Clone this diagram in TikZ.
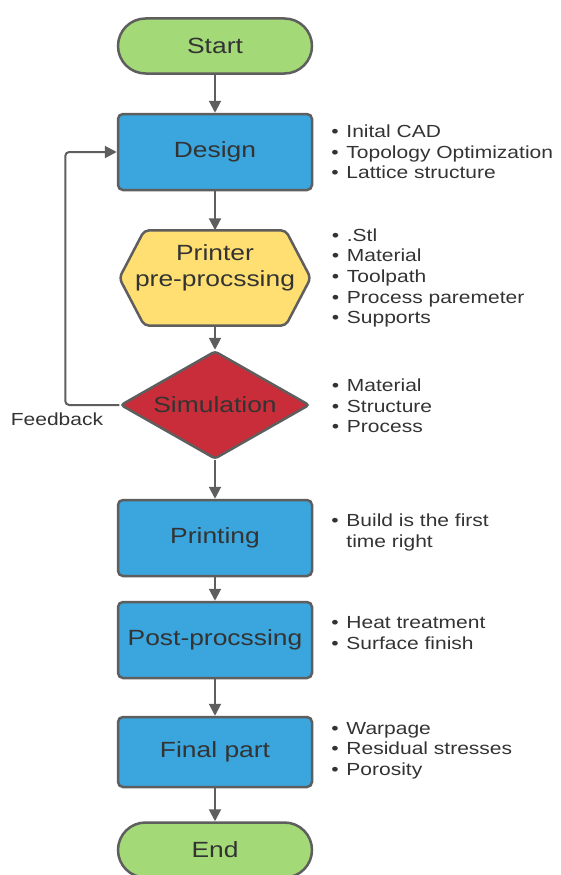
\documentclass[tikz,border=0pt]{standalone}
\usepackage{fontspec}
\setmainfont[FakeStretch=1.2]{Liberation Sans}
\usetikzlibrary{positioning,shapes.geometric,arrows.meta,backgrounds}

\definecolor{termgreen}{HTML}{A3D977}
\definecolor{procblue}{HTML}{3AA6DD}
\definecolor{prepyellow}{HTML}{FFDF71}
\definecolor{simred}{HTML}{C92D39}
\definecolor{linegray}{HTML}{5E5E5E}
\definecolor{textgray}{HTML}{333333}

\newcommand{\itm}{\makebox[15pt][l]{\textbullet}}

\begin{document}
\begin{tikzpicture}[x=1pt,y=1pt]
			\tikzstyle{every node}=[text=textgray]
			\tikzstyle{flowbox}=[draw=linegray,line width=2.5pt,font=\fontsize{22}{26}\selectfont,align=center]
			\tikzstyle{terminal}=[flowbox,fill=termgreen,rounded corners=27.5pt,minimum width=194pt,minimum height=55pt]
			\tikzstyle{process}=[flowbox,fill=procblue,rounded corners=5pt,minimum width=194pt,minimum height=76pt]
			\tikzstyle{prepbox}=[font=\fontsize{22}{26}\selectfont,align=center,minimum width=191pt,minimum height=95pt,text depth=24pt]
			\tikzstyle{decision}=[flowbox,diamond,aspect=1.75,fill=simred,rounded corners=3pt,minimum width=189pt,minimum height=108pt,inner sep=0pt]
			\tikzstyle{note}=[font=\fontsize{17.5}{20.6}\selectfont,align=left,inner sep=0pt]
			\tikzstyle{arrow}=[draw=linegray,line width=2pt,-{Triangle[length=12pt,width=12pt]}]
			
			\useasboundingbox (0,0) rectangle (561,-875);
			
			\node (start) [terminal] at (215,-46) {Start};
			\node (design) [process, below of = start, node distance=106pt] {Design};
			\node (prep) [prepbox, below of = design, node distance=126pt] {Printer\\pre-procssing};
			\node (sim) [decision, below of = prep, node distance=127pt] {Simulation};
			\node (print) [process, below of = sim, node distance=133pt] {Printing};
			\node (post) [process, below of = print, node distance=102pt] {Post-procssing};
			\node (final) [process, below of = post, node distance=112pt, minimum height=70pt] {Final part};
			\node (end) [terminal, below of = final, node distance=98pt] {End};
			
			% hexagon behind the pre-processing text
			\begin{scope}[on background layer]
			\draw[draw=linegray,line width=2.5pt,fill=prepyellow,rounded corners=5pt]
				(prep.north) -- ([xshift=-25pt]prep.north east) -- (prep.east)
				-- ([xshift=-25pt]prep.south east) -- ([xshift=25pt]prep.south west)
				-- (prep.west) -- ([xshift=25pt]prep.north west) -- cycle;
			\end{scope}
			
			\draw[arrow] (start) -- (design);
			\draw[arrow] (design) -- (prep);
			\draw[arrow] (prep) -- (sim);
			\draw[arrow] (sim) -- (print);
			\draw[arrow] (print) -- (post);
			\draw[arrow] (post) -- (final);
			\draw[arrow] (final) -- (end);
			\draw[arrow,rounded corners=4pt] (sim.west) -- ++(-54pt,0) |- (design.west);
			
			\node (fb) [note, anchor=east] at ([xshift=-16pt,yshift=-14pt]sim.west) {Feedback};
			
			% notes
			\node (designnote) [note, right=18pt of design] {\itm Inital CAD\\\itm Topology Optimization\\\itm Lattice structure};
			\node (prepnote) [note, right=21pt of prep] {\itm .Stl\\\itm Material\\\itm Toolpath\\\itm Process paremeter\\\itm Supports};
			\node (simnote) [note, right=21pt of sim, yshift=-1pt] {\itm Material\\\itm Structure\\\itm Process};
			\node (printnote) [note, right=18pt of print, yshift=5.5pt] {\itm Build is the first\\\hspace*{15pt}time right};
			\node (postnote) [note, right=18pt of post, yshift=7pt] {\itm Heat treatment\\\itm Surface finish};
			\node (finalnote) [note, right=18pt of final, yshift=1.5pt] {\itm Warpage\\\itm Residual stresses\\\itm Porosity};
			
			\end{tikzpicture}
\end{document}
